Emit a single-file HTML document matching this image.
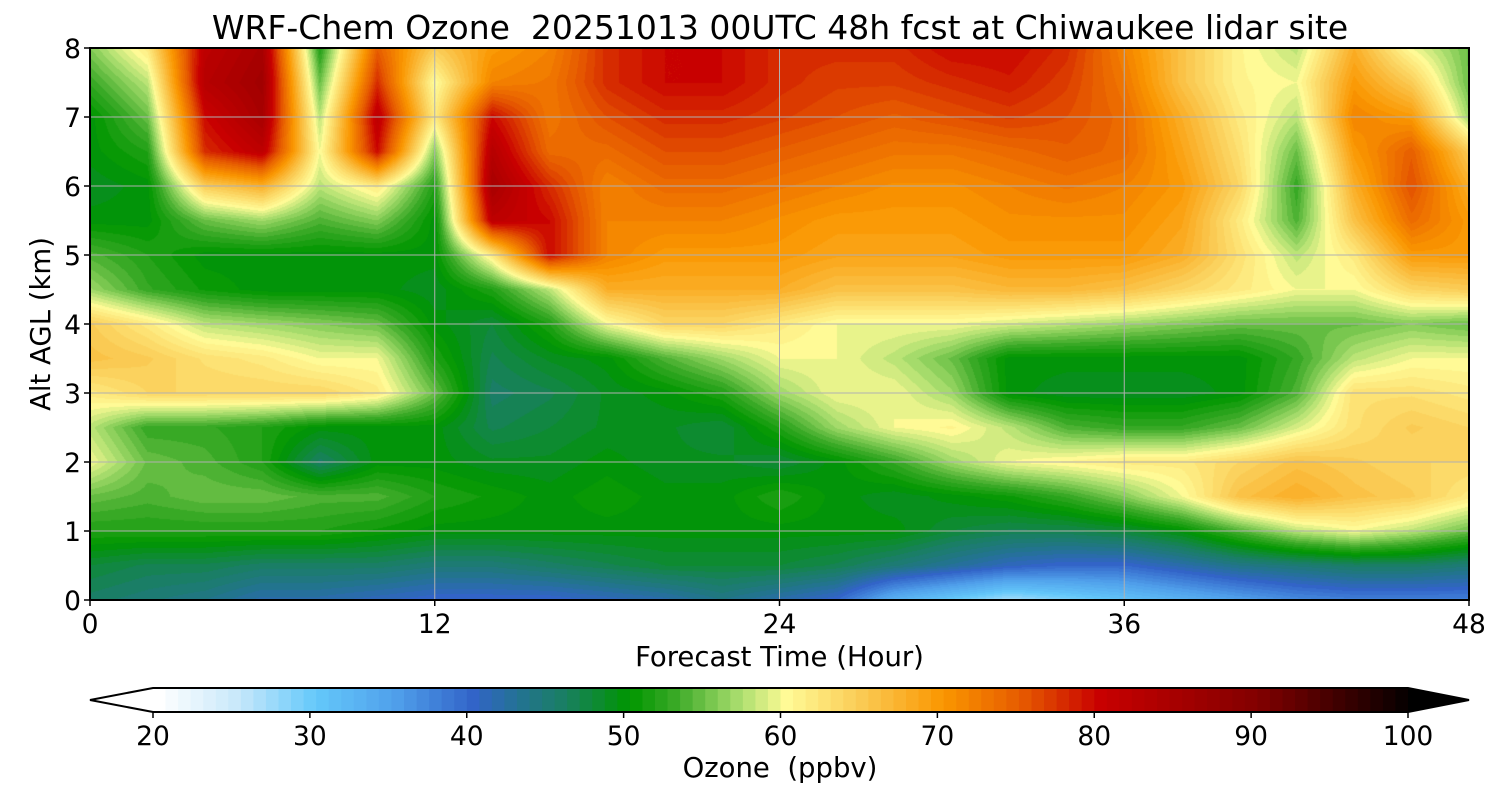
<!DOCTYPE html>
<html><head><meta charset="utf-8"><style>
body{margin:0;background:#fff;font-family:"DejaVu Sans","Liberation Sans",sans-serif;}
#wrap{position:relative;width:1500px;height:800px;overflow:hidden;}
.t{position:absolute;color:#000;white-space:nowrap;}
svg text{font-family:"DejaVu Sans","Liberation Sans",sans-serif;}
</style></head><body>
<div id="wrap">
<div class="t" style="left:0;width:1560px;text-align:center;top:8px;font-size:33px;">WRF-Chem Ozone&nbsp; 20251013 00UTC 48h fcst at Chiwaukee lidar site</div>
<canvas id="cv" width="1379" height="552" style="position:absolute;left:90px;top:48px;"></canvas>
<svg id="sv" width="1500" height="800" style="position:absolute;left:0;top:0;"></svg>
</div>
<script>
const hours=[0,2,4,6,8,10,12,14,16,18,20,22,24,26,28,30,32,34,36,38,40,42,44,46,48];
const alts=[8,7.5,7,6.5,6,5.5,5,4.5,4,3.5,3,2.5,2,1.5,1,0.5,0];
const ozone=[
[56,62,82,85,52,75,65,70,72,78,80,80,78,78,78,80,80,78,72,66,61,58,68,60,55],
[53,58,83,86,55,78,60,72,73,78,80,80,78,77,77,78,79,77,73,66,61,60,70,65,55],
[50,55,80,85,58,82,62,80,73,76,78,78,77,76,75,76,77,76,74,68,62,58,72,70,57],
[50,52,78,82,60,80,56,83,74,74,76,76,75,74,73,73,74,75,74,69,63,55,70,75,65],
[49,50,65,68,58,62,52,85,78,72,74,74,73,72,71,71,72,73,72,70,64,53,68,76,68],
[50,50,55,57,54,56,50,82,80,72,72,72,71,70,70,70,71,71,71,69,62,54,66,74,70],
[54,52,50,50,50,50,50,62,80,72,70,70,70,69,69,69,70,70,70,68,63,58,62,70,70],
[57,53,51,50,50,50,49,52,58,68,68,68,68,66,66,66,67,67,66,64,62,60,60,64,65],
[65,62,58,57,56,55,50,48,52,60,64,64,62,60,60,60,59,58,57,56,55,55,55,56,55],
[66,65,63,62,60,60,52,47,49,50,54,57,60,60,58,55,50,50,50,50,50,53,58,60,60],
[62,64,64,64,64,62,55,46,47,49,50,52,57,60,60,57,50,49,49,49,50,54,63,63,62],
[58,53,53,52,50,50,50,47,48,49,49,48,52,57,60,61,58,54,53,53,55,59,63,65,64],
[60,55,54,52,46,50,50,49,49,50,49,49,48,50,53,57,60,61,62,62,64,66,65,64,64],
[55,54,55,55,54,54,52,51,50,51,50,50,52,50,49,50,51,53,56,60,66,68,66,65,62],
[52,52,52,52,52,51,50,50,50,50,50,50,50,50,50,48,47,47,48,50,54,58,60,58,55],
[48,47,47,46,46,46,45,45,46,47,48,48,48,47,45,43,41,40,40,42,44,45,46,46,45],
[46,45,44,42,42,41,40,40,40,41,42,44,42,40,33,30,27,29,31,33,35,37,38,38,38]];
const xTicks=[0,12,24,36,48];
const yTicks=[0,1,2,3,4,5,6,7,8];
const cbTicks=[20,30,40,50,60,70,80,90,100];
const stops=[[20,255,255,255],[25,200,232,250],[30,100,200,250],[35,80,160,235],[40,50,100,200],[43,35,115,145],[46,25,128,95],[50,0,150,0],[53,60,170,40],[57,170,222,110],[60,255,250,150],[65,250,200,80],[70,250,150,0],[75,230,90,0],[80,200,0,0],[90,130,0,0],[100,0,0,0]];
const X0=90,X1=1469,Y0=48,Y1=600;
const sx=h=>X0+(h-0)/48*(X1-X0);
const sy=z=>Y1-z/8*(Y1-Y0);
function cmap(v){
 v=Math.floor(v/0.8)*0.8;
 if(v<=stops[0][0])return stops[0].slice(1);
 for(let i=1;i<stops.length;i++){if(v<=stops[i][0]){const a=stops[i-1],b=stops[i],f=(v-a[0])/(b[0]-a[0]);return [0,1,2].map(k=>Math.round(a[k+1]+f*(b[k+1]-a[k+1])));}}
 return [0,0,0];
}
const cv=document.getElementById('cv'),ctx=cv.getContext('2d');
const W=cv.width,H=cv.height,img=ctx.createImageData(W,H);
for(let py=0;py<H;py++){
 const z=8-(py+0.5)/H*8; const rf=(8-z)/0.5; const r0=Math.min(Math.floor(rf),alts.length-2), fr=rf-r0;
 for(let px=0;px<W;px++){
  const t=(px+0.5)/W*48; const cf=t/2; const c0=Math.min(Math.floor(cf),hours.length-2), fc=cf-c0;
  const v=ozone[r0][c0]*(1-fr)*(1-fc)+ozone[r0][c0+1]*(1-fr)*fc+ozone[r0+1][c0]*fr*(1-fc)+ozone[r0+1][c0+1]*fr*fc;
  const c=cmap(v),i=(py*W+px)*4; img.data[i]=c[0];img.data[i+1]=c[1];img.data[i+2]=c[2];img.data[i+3]=255;
 }
}
ctx.putImageData(img,0,0);
const sv=document.getElementById('sv'),NS='http://www.w3.org/2000/svg';
function el(tag,at,txt){const e=document.createElementNS(NS,tag);for(const k in at)e.setAttribute(k,at[k]);if(txt!==undefined)e.textContent=txt;sv.appendChild(e);return e;}
xTicks.forEach(h=>{
 if(h>0&&h<48){const g=el('line',{x1:sx(h),x2:sx(h),y1:Y0,y2:Y1,stroke:'#b0b0b0','stroke-width':1});
 
 }
 const tk=el('line',{x1:sx(h),x2:sx(h),y1:Y1,y2:Y1+6,stroke:'#000','stroke-width':1.5});
 
 
 const l=el('text',{x:sx(h),y:Y1+33,'text-anchor':'middle','font-size':26.5},String(h));
 
 
});
yTicks.forEach(z=>{
 if(z>0&&z<8){const g=el('line',{x1:X0,x2:X1,y1:sy(z),y2:sy(z),stroke:'#b0b0b0','stroke-width':1});
 
 }
 const tk=el('line',{x1:X0-6,x2:X0,y1:sy(z),y2:sy(z),stroke:'#000','stroke-width':1.5});
 
 
 const l=el('text',{x:X0-9,y:sy(z)+10,'text-anchor':'end','font-size':26.5},String(z));
 
 
});
const fr=el('rect',{x:X0,y:Y0,width:X1-X0,height:Y1-Y0,fill:'none',stroke:'#000','stroke-width':2});


const xt=el('text',{x:(X0+X1)/2,y:666,'text-anchor':'middle','font-size':27.5},'Forecast Time (Hour)');


const yt=el('text',{x:0,y:0,'text-anchor':'middle','font-size':27.5,transform:'translate(50,324) rotate(-90)'},'Alt AGL (km)');


const C0=153,C1=1408,CY0=688,CY1=712;
const cx=v=>C0+(v-20)/80*(C1-C0);
for(let v=20;v<99.9;v+=0.8){
 const c=cmap(v+0.4);
 const w=Math.min(cx(v+0.8),C1)-cx(v)+0.6;
 const r=el('rect',{x:cx(v),y:CY0,width:Math.min(w,C1-cx(v)),height:CY1-CY0,fill:`rgb(${c[0]},${c[1]},${c[2]})`});
 
 
}
const lt=el('polygon',{points:`${C0},${CY0} 90,700 ${C0},${CY1}`,fill:'#fff'});


const rt=el('polygon',{points:`${C1},${CY0} 1469,700 ${C1},${CY1}`,fill:'#000'});


const ol=el('polygon',{points:`${C0},${CY0} ${C1},${CY0} 1469,700 ${C1},${CY1} ${C0},${CY1} 90,700`,fill:'none',stroke:'#000','stroke-width':2});


cbTicks.forEach(v=>{
 const tk=el('line',{x1:cx(v),x2:cx(v),y1:CY1,y2:CY1+6,stroke:'#000','stroke-width':1.5});
 
 
 const l=el('text',{x:cx(v),y:CY1+33,'text-anchor':'middle','font-size':26.5},String(v));
 
 
});
const ct=el('text',{x:780,y:777,'text-anchor':'middle','font-size':27.5},'Ozone\u00a0 (ppbv)');


</script>
</body></html>
